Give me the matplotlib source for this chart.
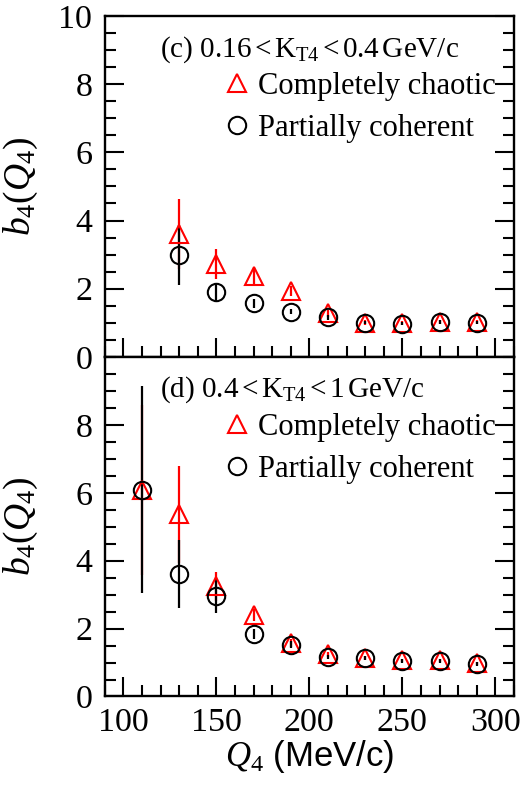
import matplotlib
matplotlib.use("Agg")
import matplotlib.pyplot as plt
from matplotlib.ticker import MultipleLocator
from matplotlib.lines import Line2D

plt.rcParams['font.family'] = ['Liberation Serif', 'DejaVu Serif']
plt.rcParams['mathtext.fontset'] = 'custom'
plt.rcParams['mathtext.rm'] = 'Liberation Serif'
plt.rcParams['mathtext.it'] = 'Liberation Serif:italic'
plt.rcParams['mathtext.bf'] = 'Liberation Serif:bold'

# Panel (c): 0.16 < K_T4 < 0.4 GeV/c
q_c = [130, 150, 170, 190, 210, 230, 250, 270, 290]
chaotic_c = [3.60, 2.73, 2.36, 1.94, 1.28, 1.01, 0.99, 1.02, 1.02]
chaotic_c_err = [1.03, 0.43, 0.22, 0.15, 0.10, 0.06, 0.05, 0.05, 0.05]
coherent_c = [2.99, 1.89, 1.57, 1.33, 1.16, 1.01, 0.98, 1.02, 1.01]
coherent_c_err = [0.87, 0.27, 0.12, 0.08, 0.07, 0.05, 0.05, 0.05, 0.05]

# Panel (d): 0.4 < K_T4 < 1 GeV/c
q_d = [110, 130, 150, 170, 190, 210, 230, 250, 270, 290]
chaotic_d = [6.09, 5.37, 3.24, 2.41, 1.58, 1.24, 1.14, 1.06, 1.06, 0.98]
chaotic_d_err = [2.50, 1.43, 0.42, 0.18, 0.12, 0.08, 0.06, 0.05, 0.05, 0.05]
coherent_d = [6.09, 3.61, 2.95, 1.84, 1.53, 1.16, 1.12, 1.04, 1.04, 0.96]
coherent_d_err = [3.05, 1.00, 0.50, 0.15, 0.10, 0.07, 0.06, 0.05, 0.05, 0.05]

titles = [r'(c) 0.16$\,$<$\,$K$_{\rm T4}$$\,$<$\,$0.4$\,$GeV/c',
          r'(d) 0.4$\,$<$\,$K$_{\rm T4}$$\,$<$\,$1$\,$GeV/c']
labels = ['Completely chaotic', 'Partially coherent']

fig = plt.figure(figsize=(5.27, 7.91), dpi=100)
L, R = 0.1987, 0.9753
top_pos = [L, 0.5487, R - L, 0.980 - 0.5487]
bot_pos = [L, 0.1195, R - L, 0.5487 - 0.1195]
ax1 = fig.add_axes(top_pos)
ax2 = fig.add_axes(bot_pos)

datasets = [(ax1, q_c, chaotic_c, chaotic_c_err, coherent_c, coherent_c_err, titles[0], 0.879),
            (ax2, q_d, chaotic_d, chaotic_d_err, coherent_d, coherent_d_err, titles[1], 0.883)]

for ax, q, ch, che, co, coe, title, ty in datasets:
    ax.errorbar(q, ch, yerr=che, fmt='none', ecolor='red', elinewidth=1.6, capsize=0, zorder=2)
    ax.errorbar(q, co, yerr=coe, fmt='none', ecolor='black', elinewidth=1.6, capsize=0, zorder=3)
    ax.plot(q, ch, linestyle='none', marker='^', markersize=13.5, markerfacecolor='none',
            markeredgecolor='red', markeredgewidth=1.5, zorder=4)
    ax.plot(q, co, linestyle='none', marker='o', markersize=12.5, markerfacecolor='none',
            markeredgecolor='black', markeredgewidth=1.5, zorder=5)
    ax.set_xlim(90, 310)
    ax.set_ylim(0, 10)
    ax.xaxis.set_major_locator(MultipleLocator(50))
    ax.xaxis.set_minor_locator(MultipleLocator(10))
    ax.yaxis.set_major_locator(MultipleLocator(2))
    ax.yaxis.set_minor_locator(MultipleLocator(0.5))
    ax.tick_params(which='both', direction='in', left=True, right=True, bottom=True, top=False,
                   width=1.5, labelsize=24.5)
    ax.tick_params(which='major', length=14)
    ax.tick_params(which='minor', length=8)
    ax.tick_params(axis='y', pad=9)
    ax.tick_params(axis='x', pad=8)
    for s in ax.spines.values():
        s.set_linewidth(1.7)
    ax.set_ylabel(r'$b_4(Q_4)$', fontsize=27)
    ax.yaxis.set_label_coords(-0.158, 0.5)
    ax.text(0.135, ty, title, transform=ax.transAxes, fontsize=21, va='baseline', ha='left')
    handles = [Line2D([], [], linestyle='none', marker='^', markersize=13.5, markerfacecolor='none',
                      markeredgecolor='red', markeredgewidth=1.5),
               Line2D([], [], linestyle='none', marker='o', markersize=12.5, markerfacecolor='none',
                      markeredgecolor='black', markeredgewidth=1.5)]
    ax.legend(handles, labels, loc='upper left', bbox_to_anchor=(0.285, 0.835), frameon=False,
              fontsize=22, handlelength=1.0, handletextpad=0.2, labelspacing=0.42,
              borderaxespad=0, borderpad=0)

ax1.tick_params(axis='x', labelbottom=False)
ax2.set_yticks([0, 2, 4, 6, 8])
ax2.set_xlabel(r'$Q_4$ (MeV/c)', fontsize=25, family=['Liberation Sans'], labelpad=0)

fig.savefig('out.png', dpi=100)
